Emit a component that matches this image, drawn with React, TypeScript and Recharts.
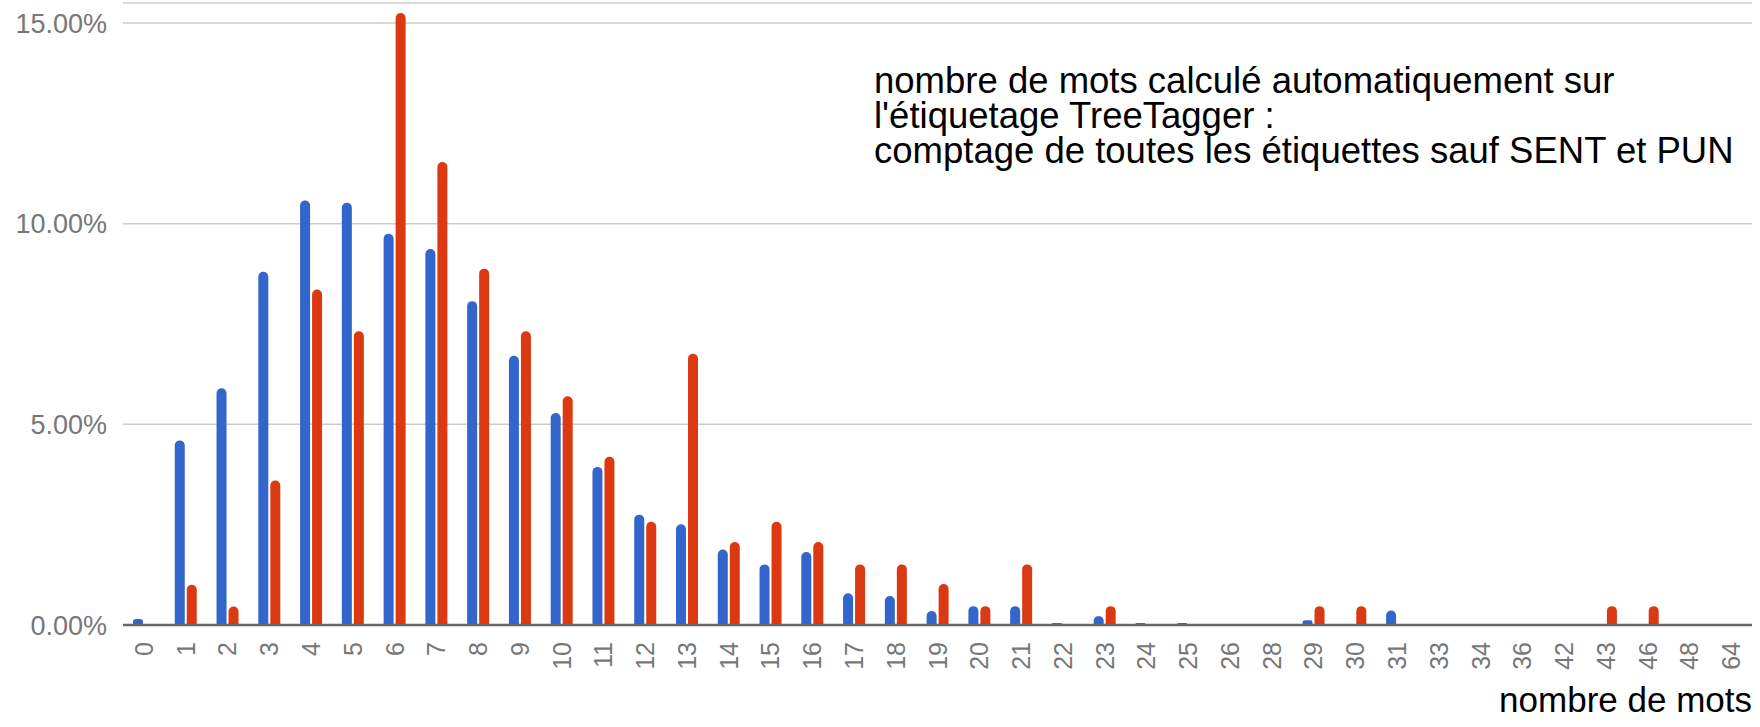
import React from 'react';
import { BarChart, Bar, XAxis, YAxis, CartesianGrid } from 'recharts';

const categories = [
  '0', '1', '2', '3', '4', '5', '6', '7', '8', '9', '10', '11', '12', '13', '14', '15', '16', '17', '18', '19',
  '20', '21', '22', '23', '24', '25', '26', '28', '29', '30', '31', '33', '34', '36', '42', '43', '46', '48', '64',
];

// percentages, blue series
const blueValues = [
  0.15, 4.6, 5.9, 8.8, 10.58, 10.52, 9.75, 9.37, 8.07, 6.71, 5.28, 3.94, 2.75, 2.51, 1.88, 1.51, 1.82, 0.79, 0.72, 0.35,
  0.47, 0.47, 0.05, 0.22, 0.05, 0.05, 0.01, 0.01, 0.12, 0.0, 0.36, 0.01, 0.01, 0.01, 0.01, 0.0, 0.0, 0.01, 0.01,
];

// percentages, red series
const redValues = [
  0.0, 1.0, 0.46, 3.6, 8.36, 7.32, 15.25, 11.54, 8.88, 7.32, 5.7, 4.19, 2.57, 6.76, 2.07, 2.57, 2.07, 1.51, 1.51, 1.02,
  0.47, 1.51, 0.0, 0.47, 0.0, 0.0, 0.0, 0.0, 0.47, 0.47, 0.0, 0.0, 0.0, 0.0, 0.0, 0.47, 0.47, 0.0, 0.0,
];

const yTicks = [0, 5, 10, 15];

const annotationLines = [
  'nombre de mots calculé automatiquement sur',
  "l'étiquetage TreeTagger :",
  'comptage de toutes les étiquettes sauf SENT et PUN',
];
const xTitle = 'nombre de mots';

const data = categories.map((c, i) => ({ cat: c, a: blueValues[i], b: redValues[i] }));

const FONT = '"Liberation Sans", Arial, sans-serif';
const TICK_COLOR = '#777777';

const XTick = (props: any) => {
  const { x, y, payload } = props;
  return (
    <text
      transform={`translate(${x}, ${y + 17}) rotate(-90)`}
      textAnchor="end"
      dominantBaseline="central"
      fontFamily={FONT}
      fontSize={25}
      fill={TICK_COLOR}
    >
      {payload.value}
    </text>
  );
};

export default function App() {
  return (
    <div style={{ position: 'absolute', left: 0, top: 0, width: 1760, height: 727, background: '#fff' }}>
      <BarChart
        width={1760}
        height={727}
        data={data}
        margin={{ top: 3, right: 8, left: 0, bottom: 0 }}
        barSize={10}
        barGap={2}
      >
        <CartesianGrid horizontal={true} vertical={false} stroke="#cccccc" strokeWidth={1.5} />
        <XAxis
          dataKey="cat"
          interval={0}
          height={102}
          tickLine={false}
          tickSize={0}
          tickMargin={0}
          axisLine={{ stroke: '#666666', strokeWidth: 2.5 }}
          tick={<XTick />}
        />
        <YAxis
          width={123}
          domain={[0, 15.5]}
          ticks={yTicks}
          allowDataOverflow={true}
          tickLine={false}
          axisLine={false}
          tickSize={0}
          tickMargin={16}
          tickFormatter={(v: number) => `${v.toFixed(2)}%`}
          tick={{ fontFamily: FONT, fontSize: 27, fill: TICK_COLOR }}
        />
        <Bar dataKey="a" fill="#3366cc" radius={[5, 5, 0, 0]} isAnimationActive={false} />
        <Bar dataKey="b" fill="#dc3912" radius={[5, 5, 0, 0]} isAnimationActive={false} />
      </BarChart>
      <svg
        width={1760}
        height={727}
        style={{ position: 'absolute', left: 0, top: 0, pointerEvents: 'none' }}
      >
        {annotationLines.map((line, i) => (
          <text key={i} x={874} y={93 + i * 35} fontFamily={FONT} fontSize={36.5} fill="#000">
            {line}
          </text>
        ))}
        <text x={1752} y={712} textAnchor="end" fontFamily={FONT} fontSize={35} fill="#000">
          {xTitle}
        </text>
      </svg>
    </div>
  );
}
